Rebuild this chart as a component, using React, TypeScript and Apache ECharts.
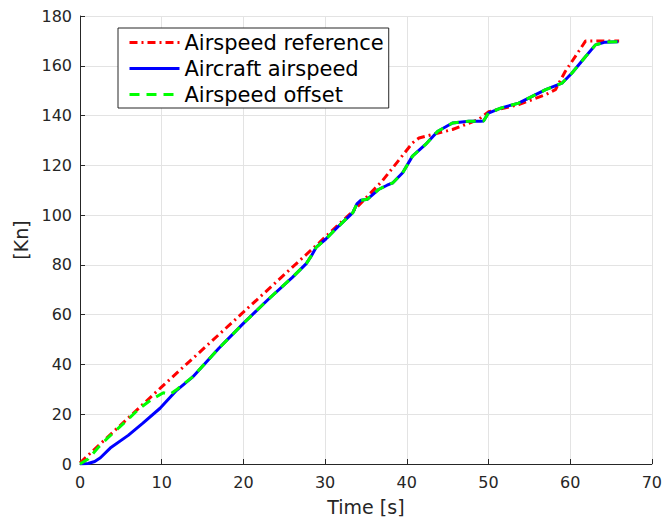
import React, { useEffect, useRef } from "react";
import * as echarts from "echarts";

// Airspeed reference (red dash-dot)
const refTime = [0, 10, 20, 29.3, 33.4, 37, 40.7, 41.5, 45.6, 48.8, 50, 53.7, 57, 58.2, 59.4, 61.9, 66];
const refSpeed = [0.5, 31, 61, 89, 101.5, 113.7, 129, 131, 134.4, 138.4, 141.5, 144.4, 148.4, 150.4, 157.7, 170, 170];

// Aircraft airspeed (blue solid)
const acTime = [0, 1, 1.8, 2.5, 3.7, 5.9, 7.7, 9.8, 11.8, 13.8, 17, 20, 23, 26, 27.7, 28.3, 28.9, 30.1, 31.7, 33.4, 33.9, 34.4, 35.2, 36.6, 37.6, 38.3, 39.5, 40.7, 42.3, 43.8, 45.6, 47.6, 49, 49.4, 50, 51.5, 53.7, 57, 59, 60.2, 61.9, 63.1, 64.3, 65.9];
const acSpeed = [0, 0.2, 1, 2.5, 6.4, 11.5, 16.4, 22.4, 29.5, 35, 46.5, 56.5, 66, 75, 80.5, 83.5, 87, 90.4, 95.7, 101, 104.5, 106, 106.4, 110.4, 112, 113, 117, 123.7, 128.4, 133.7, 137, 137.7, 137.7, 137.8, 141, 143, 145, 150.4, 153, 157, 163.7, 168.4, 169.5, 169.7];

// Airspeed offset (green dashed)
const offTime = [0, 1, 2.2, 3.4, 5.9, 7.3, 8.8, 10.2, 11, 11.8, 13.8, 17, 20, 23, 26, 27.7, 28.3, 28.9, 30.1, 31.7, 33.4, 33.9, 34.4, 35.2, 36.6, 37.6, 38.3, 39.5, 40.7, 42.3, 43.8, 45.6, 47.6, 49, 49.4, 50, 51.5, 53.7, 57, 59, 60.2, 61.9, 63.1, 64.3, 65.9];
const offSpeed = [0, 2, 6.5, 10.5, 18, 22.4, 26, 28.6, 28, 29.8, 35, 46.5, 56.5, 66, 75, 80.5, 83.5, 87, 90.4, 95.7, 101, 104.5, 106, 106.4, 110.4, 112, 113, 117, 123.7, 128.4, 133.7, 137, 137.7, 137.7, 137.8, 141, 143, 145, 150.4, 153, 157, 163.7, 168.4, 169.5, 169.7];

const seriesNames = ["Airspeed reference", "Aircraft airspeed", "Airspeed offset"];

const pairs = (xs: number[], ys: number[]) => xs.map((x, i) => [x, ys[i]]);

export default function App() {
  const ref = useRef<HTMLDivElement>(null);
  useEffect(() => {
    document.body.style.margin = "0";
    const chart = echarts.init(ref.current!, null, { renderer: "svg" });
    const font = "DejaVu Sans";
    const axisColor = "#262626";
    chart.setOption({
      animation: false,
      backgroundColor: "#ffffff",
      grid: { left: 80, right: 12, top: 16, bottom: 55, containLabel: false },
      legend: {
        orient: "vertical",
        left: 118,
        top: 28,
        data: seriesNames,
        itemWidth: 50,
        itemHeight: 14,
        itemGap: 5,
        padding: [4, 5, 3, 10],
        borderColor: "#262626",
        borderWidth: 1,
        backgroundColor: "#ffffff",
        itemStyle: { opacity: 0 },
        lineStyle: { width: 3 },
        textStyle: { fontFamily: font, fontSize: 21, color: "#000", lineHeight: 21 },
      },
      xAxis: {
        type: "value",
        min: 0,
        max: 70,
        interval: 10,
        name: "Time [s]",
        nameLocation: "middle",
        nameGap: 33,
        nameTextStyle: { fontFamily: font, fontSize: 19, color: axisColor },
        axisLine: { show: true, lineStyle: { color: axisColor, width: 1 } },
        axisTick: { show: true, inside: true, length: 5, lineStyle: { color: axisColor } },
        axisLabel: { fontFamily: font, fontSize: 16, color: axisColor, margin: 10 },
        splitLine: { show: true, lineStyle: { color: "#e3e3e3", width: 1 } },
      },
      yAxis: {
        type: "value",
        min: 0,
        max: 180,
        interval: 20,
        name: "[Kn]",
        nameLocation: "middle",
        nameGap: 46,
        nameTextStyle: { fontFamily: font, fontSize: 19, color: axisColor },
        axisLine: { show: true, lineStyle: { color: axisColor, width: 1 } },
        axisTick: { show: true, inside: true, length: 5, lineStyle: { color: axisColor } },
        axisLabel: { fontFamily: font, fontSize: 16, color: axisColor, margin: 8 },
        splitLine: { show: true, lineStyle: { color: "#e3e3e3", width: 1 } },
      },
      series: [
        {
          name: seriesNames[0],
          type: "line",
          data: pairs(refTime, refSpeed),
          showSymbol: false,
          symbol: "none",
          lineStyle: { color: "#ff0000", width: 3, type: [8, 4, 2, 4] },
          itemStyle: { color: "#ff0000" },
          z: 2,
        },
        {
          name: seriesNames[1],
          type: "line",
          data: pairs(acTime, acSpeed),
          showSymbol: false,
          symbol: "none",
          lineStyle: { color: "#0000ff", width: 3, type: "solid" },
          itemStyle: { color: "#0000ff" },
          z: 3,
        },
        {
          name: seriesNames[2],
          type: "line",
          data: pairs(offTime, offSpeed),
          showSymbol: false,
          symbol: "none",
          lineStyle: { color: "#00ff00", width: 3, type: [10, 7] },
          itemStyle: { color: "#00ff00" },
          z: 4,
        },
      ],
    });
    return () => chart.dispose();
  }, []);
  return <div ref={ref} style={{ width: 665, height: 521 }} />;
}
